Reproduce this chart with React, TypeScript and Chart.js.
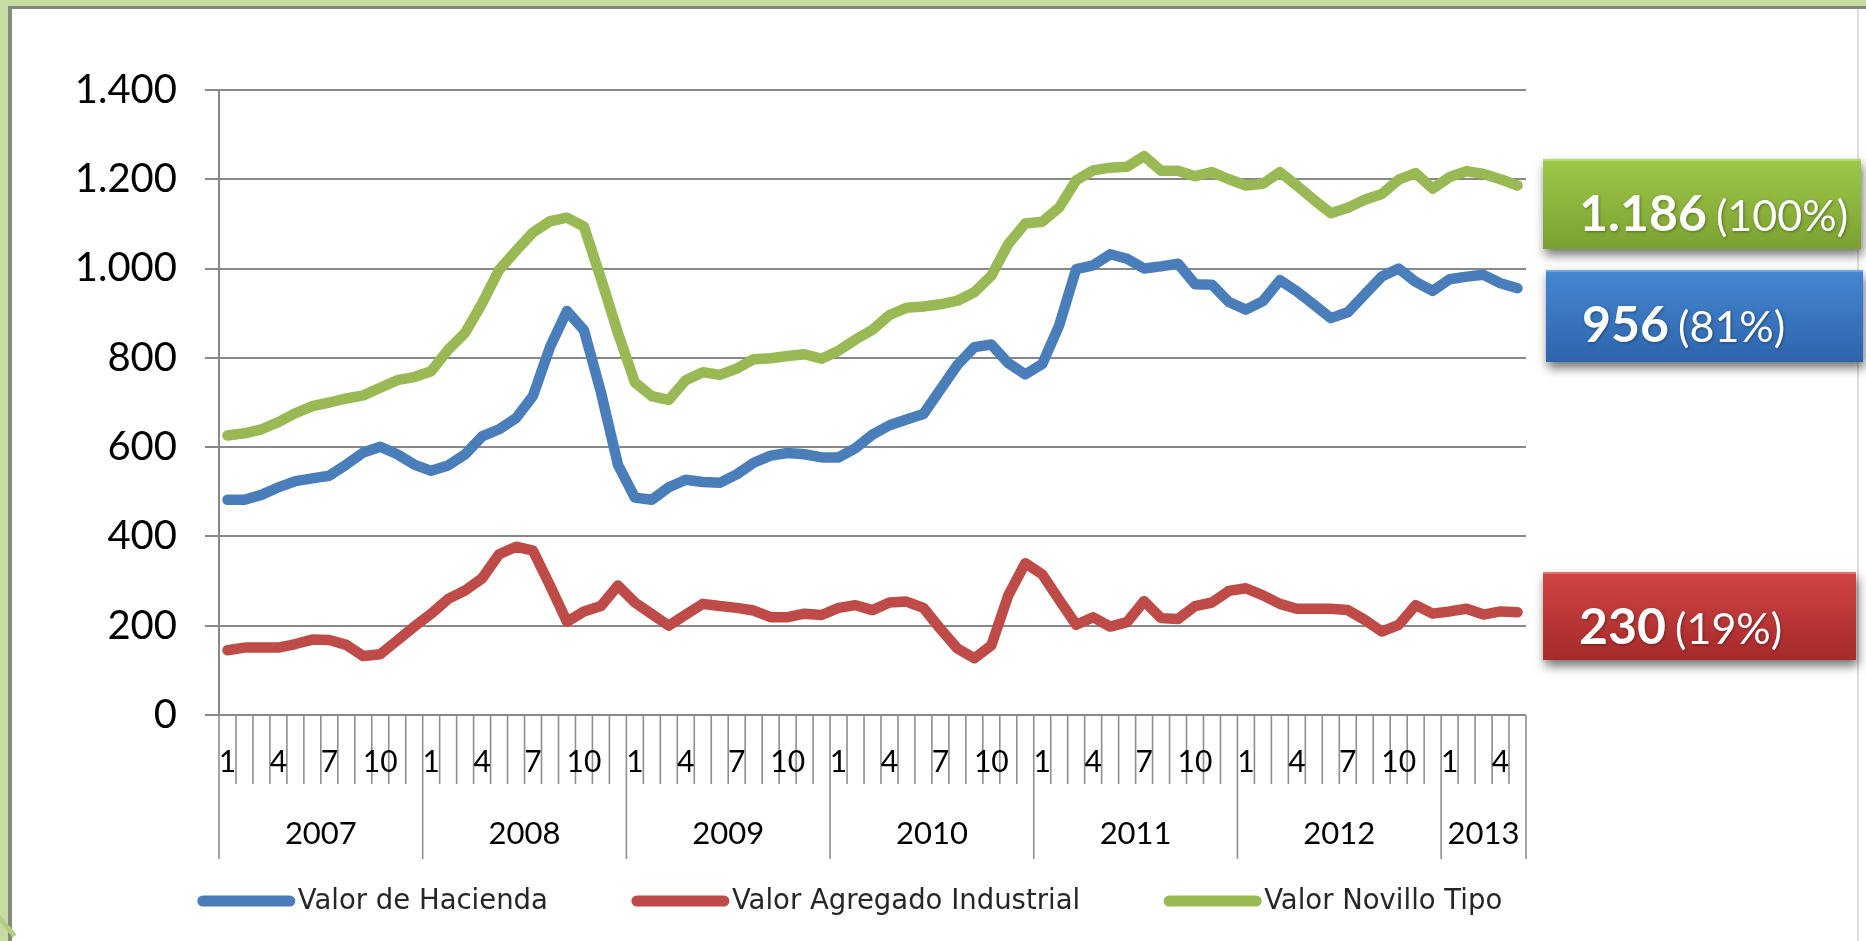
import React, { useEffect, useRef } from "react";
import { Chart, registerables } from "chart.js";

Chart.register(...registerables);

// ---- data ----
const years = ["2007", "2008", "2009", "2010", "2011", "2012", "2013"];
const monthsPerYear = [12, 12, 12, 12, 12, 12, 5];
const shownMonths = [1, 4, 7, 10];
const yTicks = [0, 200, 400, 600, 800, 1000, 1200, 1400];

const seriesNames = ["Valor de Hacienda", "Valor Agregado Industrial", "Valor Novillo Tipo"];
const seriesColors = ["#4a7ebb", "#be4b48", "#98b954"];

const hacienda = [
  482, 482, 493, 510, 524, 530, 536, 561, 588, 601, 584, 561,
  547, 559, 584, 624, 640, 665, 715, 824, 905, 862, 723, 561,
  487, 482, 510, 527, 522, 520, 539, 565, 581, 587, 584, 577,
  577, 598, 628, 649, 662, 674, 729, 784, 824, 830, 788, 763,
  786, 873, 999, 1007, 1032, 1022, 1000, 1005, 1011, 965, 964, 925,
  908, 927, 974, 949, 919, 889, 902, 942, 982, 1000, 970, 950,
  976, 982, 986, 967, 956,
];

const agregado = [
  145, 151, 151, 151, 159, 169, 168, 157, 132, 136, 167, 198,
  227, 260, 279, 306, 360, 377, 368, 290, 209, 232, 244, 290,
  252, 226, 200, 225, 249, 244, 240, 234, 219, 219, 227, 224,
  240, 246, 235, 252, 254, 240, 193, 149, 127, 156, 268, 340,
  315, 258, 202, 219, 198, 208, 255, 217, 215, 244, 252, 278,
  284, 268, 249, 238, 238, 238, 235, 213, 187, 202, 246, 227,
  232, 238, 225, 232, 230,
];

const novillo = [
  626, 631, 640, 656, 676, 692, 700, 709, 716, 733, 750, 757,
  770, 818, 856, 922, 997, 1040, 1081, 1106, 1114, 1094, 978, 856,
  745, 714, 706, 750, 768, 762, 776, 797, 799, 804, 808, 798,
  816, 841, 863, 896, 912, 915, 920, 928, 947, 984, 1055, 1101,
  1105, 1137, 1198, 1220, 1226, 1228, 1252, 1219, 1219, 1207, 1216, 1200,
  1186, 1190, 1216, 1186, 1154, 1124, 1136, 1154, 1167, 1199, 1214, 1179,
  1205, 1218, 1212, 1200, 1186,
];

// categories built from years / months
const categories: string[] = [];
const monthOf: number[] = [];
const yearStartIdx: number[] = [];
years.forEach((yr, yi) => {
  yearStartIdx.push(categories.length);
  for (let m = 1; m <= monthsPerYear[yi]; m++) {
    categories.push(yr + "-" + m);
    monthOf.push(m);
  }
});

const fmt = (v: number) => String(Math.round(v)).replace(/\B(?=(\d{3})+(?!\d))/g, ".");

// ---- plugins ----
const multiAxisPlugin = {
  id: "multiAxis",
  afterDraw(chart: any) {
    const { ctx } = chart;
    const xs = chart.scales.x;
    const ys = chart.scales.y;
    const y0 = ys.getPixelForValue(0);
    const n = categories.length;
    const cell = xs.getPixelForValue(1) - xs.getPixelForValue(0);
    ctx.save();
    ctx.strokeStyle = "#8e8e8e";
    ctx.lineWidth = 1.6;
    for (let k = 0; k <= n; k++) {
      const bx = (k < n ? xs.getPixelForValue(k) : xs.getPixelForValue(n - 1) + cell) - cell / 2;
      const isYear = yearStartIdx.includes(k) || k === n;
      ctx.beginPath();
      ctx.moveTo(bx, y0);
      ctx.lineTo(bx, y0 + (isYear ? 144 : 69));
      ctx.stroke();
    }
    ctx.fillStyle = "#000";
    ctx.textAlign = "center";
    ctx.textBaseline = "middle";
    ctx.font = "30px Lato";
    for (let i = 0; i < n; i++) {
      if (shownMonths.includes(monthOf[i])) {
        ctx.fillText(String(monthOf[i]), xs.getPixelForValue(i), y0 + 47);
      }
    }
    ctx.font = "31px Lato";
    years.forEach((yr, yi) => {
      const s = yearStartIdx[yi];
      const e = s + monthsPerYear[yi] - 1;
      const cx = (xs.getPixelForValue(s) + xs.getPixelForValue(e)) / 2;
      ctx.fillText(yr, cx, y0 + 119);
    });
    ctx.restore();
  },
};

const legendPlugin = {
  id: "customLegend",
  afterDraw(chart: any) {
    const { ctx } = chart;
    const sample = 97;
    const gapText = 3;
    const gapItem = 84;
    const cy = 901;
    ctx.save();
    ctx.font = '27.5px "DejaVu Sans"';
    const widths = seriesNames.map((t) => ctx.measureText(t).width);
    const total = widths.reduce((a, w) => a + sample + gapText + w, 0) + gapItem * (seriesNames.length - 1);
    let x = 850 - total / 2;
    seriesNames.forEach((name, i) => {
      ctx.strokeStyle = seriesColors[i];
      ctx.lineWidth = 11;
      ctx.lineCap = "round";
      ctx.beginPath();
      ctx.moveTo(x + 5, cy);
      ctx.lineTo(x + sample - 5, cy);
      ctx.stroke();
      ctx.fillStyle = "#262626";
      ctx.textAlign = "left";
      ctx.textBaseline = "middle";
      ctx.fillText(name, x + sample + gapText, cy + 1);
      x += sample + gapText + widths[i] + gapItem;
    });
    ctx.restore();
  },
};

const boxes = [
  { series: 2, x: 1543, y: 159, w: 318, h: 90, top: "#a0c848", bottom: "#7aa032" },
  { series: 0, x: 1546, y: 270, w: 317, h: 92, top: "#4587d2", bottom: "#2e64ac" },
  { series: 1, x: 1543, y: 572, w: 313, h: 88, top: "#d24444", bottom: "#a52a2a" },
];

const calloutPlugin = {
  id: "callouts",
  afterDraw(chart: any) {
    const { ctx } = chart;
    const all = [hacienda, agregado, novillo];
    const totalLast = novillo[novillo.length - 1];
    boxes.forEach((b) => {
      const arr = all[b.series];
      const v = arr[arr.length - 1];
      const pct = Math.round((v / totalLast) * 100);
      ctx.save();
      ctx.shadowColor = "rgba(0,0,0,0.55)";
      ctx.shadowBlur = 10;
      ctx.shadowOffsetX = 2;
      ctx.shadowOffsetY = 6;
      const g = ctx.createLinearGradient(0, b.y, 0, b.y + b.h);
      g.addColorStop(0, b.top);
      g.addColorStop(1, b.bottom);
      ctx.fillStyle = g;
      ctx.fillRect(b.x, b.y, b.w, b.h);
      ctx.restore();
      ctx.save();
      ctx.fillStyle = "rgba(255,255,255,0.25)";
      ctx.fillRect(b.x, b.y, b.w, 2);
      ctx.fillStyle = "#ffffff";
      ctx.textBaseline = "alphabetic";
      ctx.textAlign = "left";
      ctx.shadowColor = "rgba(0,0,0,0.35)";
      ctx.shadowBlur = 3;
      ctx.shadowOffsetX = 1;
      ctx.shadowOffsetY = 1;
      ctx.font = "bold 50px Lato";
      const main = fmt(v);
      const tx = b.x + 36;
      const ty = b.y + 72;
      ctx.fillText(main, tx, ty);
      const w = ctx.measureText(main).width;
      ctx.font = "43px Lato";
      ctx.fillText("(" + pct + "%)", tx + w + 9, ty);
      ctx.restore();
    });
  },
};

export default function App() {
  const ref = useRef<HTMLCanvasElement | null>(null);
  useEffect(() => {
    document.body.style.margin = "0";
    const canvas = ref.current;
    if (!canvas) return;
    const chart = new Chart(canvas, {
      type: "line",
      data: {
        labels: categories,
        datasets: [
          { label: seriesNames[0], data: hacienda, borderColor: seriesColors[0] },
          { label: seriesNames[1], data: agregado, borderColor: seriesColors[1] },
          { label: seriesNames[2], data: novillo, borderColor: seriesColors[2] },
        ].map((d) => ({
          ...d,
          backgroundColor: d.borderColor,
          borderWidth: 10.5,
          pointRadius: 0,
          tension: 0,
          borderJoinStyle: "round" as const,
          borderCapStyle: "round" as const,
          fill: false,
        })),
      },
      options: {
        animation: false,
        responsive: false,
        devicePixelRatio: 1,
        layout: { padding: { left: 0, top: 90, right: 340, bottom: 226 } },
        plugins: { legend: { display: false }, tooltip: { enabled: false } },
        scales: {
          x: { type: "category", offset: true, display: false },
          y: {
            min: 0,
            max: 1400,
            afterFit: (s: any) => {
              s.width = 219;
            },
            afterBuildTicks: (s: any) => {
              s.ticks = yTicks.map((v) => ({ value: v }));
            },
            ticks: {
              padding: 28,
              color: "#000",
              font: { family: "Lato", size: 40 },
              callback: (v: any) => fmt(Number(v)),
            },
            grid: { color: "#888888", lineWidth: 2, tickLength: 14, drawTicks: true },
            border: { display: true, color: "#888888", width: 2 },
          },
        },
      },
      plugins: [multiAxisPlugin, legendPlugin, calloutPlugin],
    } as any);
    return () => chart.destroy();
  }, []);

  return (
    <div style={{ position: "fixed", left: 0, top: 0, width: 1866, height: 941, background: "#c6dca2", overflow: "hidden" }}>
      <div
        style={{
          position: "absolute",
          left: 8,
          top: 6,
          width: 1858,
          height: 945,
          background: "#ffffff",
          borderLeft: "4px solid #868a7e",
          borderTop: "3px solid #868a7e",
          boxSizing: "border-box",
        }}
      />
      <div style={{ position: "absolute", left: 1857, top: 9, width: 2, height: 932, background: "#dedede" }} />
      <div
        style={{
          position: "absolute",
          left: -10,
          top: 922,
          width: 30,
          height: 5,
          background: "#b3cf86",
          transform: "rotate(50deg)",
        }}
      />
      <canvas ref={ref} width={1866} height={941} style={{ position: "absolute", left: 0, top: 0, width: 1866, height: 941 }} />
    </div>
  );
}
